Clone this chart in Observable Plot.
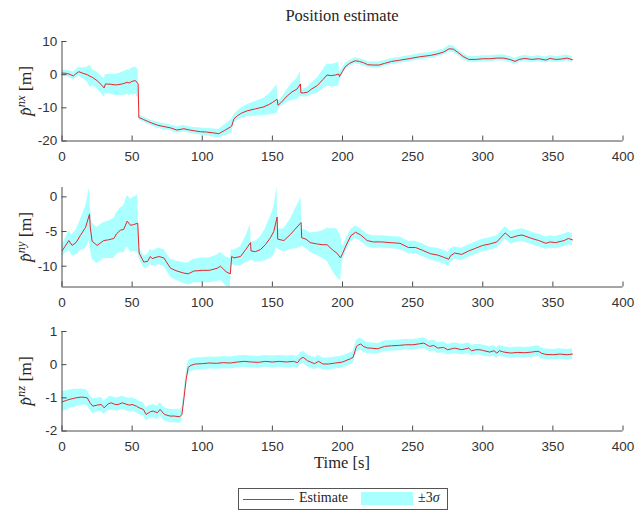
<!DOCTYPE html>
<html>
<head>
<meta charset="utf-8">
<script src="https://cdn.jsdelivr.net/npm/d3@7"></script>
<script src="https://cdn.jsdelivr.net/npm/@observablehq/plot@0.6"></script>
<style>
  html, body { margin: 0; padding: 0; background: #fff; }
  #root { position: relative; width: 637px; height: 511px; background: #fff; overflow: hidden; }
  .abs { position: absolute; }
  .serif { font-family: "Liberation Serif", "DejaVu Serif", serif; color: #262626; }
  .ylab { position: absolute; white-space: nowrap; font-size: 17.5px; line-height: 1; transform: translate(-50%, -50%) rotate(-90deg); }
  .ylab sup { font-size: 12.5px; font-style: italic; vertical-align: 0.5em; line-height: 0; }
</style>
</head>
<body>
<div id="root"></div>
<script>
// ---------- data ----------
const xTicks = [0, 50, 100, 150, 200, 250, 300, 350, 400];

// Panel 1: north position estimate and 3-sigma half width
const tX = [0,3,5,8,10,12,15,18,20,22,25,28,30,31,35,38,40,43,46.5,48,50,52.4,54.3,54.8,58,60.7,64,67.9,72,77,82,86.9,90,94,98.8,103,107,111.8,116,120,121,122.5,125,128,132,138,144,148,150,153.4,154,156,160.6,164,167.7,170,170.3,172,175,178,182,186,189,192,195,197.4,197.8,200,202,205,209,212,215,218,222,226,230,235,240,248.5,255,262.7,268,272,276,279,282,286,290,295,300,305,310,315,320,323,326,330,335,340,345,348,352,356,360,364];
const estX = [0.5,0.4,0.2,-0.4,0.3,0.9,0.4,0.0,-0.5,-0.9,-1.8,-3.0,-4.0,-2.8,-2.9,-3.1,-3.0,-2.8,-2.3,-2.5,-2.0,-1.8,-2.8,-12.9,-13.5,-14.0,-14.6,-15.2,-15.6,-16.0,-16.7,-16.3,-16.6,-16.9,-17.2,-17.3,-17.5,-17.8,-16.8,-15.8,-15.5,-13.4,-12.4,-11.6,-10.9,-10.3,-9.7,-8.9,-8.4,-7.4,-9.2,-8.5,-6.4,-5.2,-4.3,-2.8,-5.5,-5.5,-5.3,-4.3,-3.3,-1.5,-0.1,-0.3,-0.1,0.2,-0.6,1.0,2.4,3.4,4.2,4.0,3.6,3.0,2.9,2.9,3.4,4.0,4.3,4.9,5.4,5.8,6.3,6.8,7.8,7.7,6.8,5.5,4.6,4.6,4.8,4.8,5.0,5.0,4.5,4.0,4.6,4.9,4.6,4.8,4.4,4.9,4.6,4.7,5.0,4.5];
const sigX = [0.8,0.9,1.0,1.1,1.2,1.3,1.6,2.2,3.4,2.4,2.5,2.6,2.7,2.8,3.0,3.2,3.3,3.5,3.7,3.8,4.0,4.1,4.2,0.8,0.8,0.8,0.8,0.9,0.9,0.9,1.0,1.0,1.0,1.0,1.1,1.1,1.2,1.3,1.6,2.0,2.1,1.2,1.4,1.6,1.8,2.2,2.6,3.2,3.6,4.4,1.0,1.2,1.9,2.6,3.2,3.8,1.1,1.2,1.4,1.8,2.3,2.8,3.3,3.4,3.5,3.6,1.4,1.0,0.9,0.9,0.9,0.9,0.9,0.9,0.9,0.9,0.9,0.9,0.9,0.9,0.9,0.9,0.9,0.9,1.0,1.0,0.9,0.9,0.9,0.9,0.9,0.9,0.9,0.9,0.9,0.9,0.9,0.9,0.9,0.9,0.9,0.9,0.9,0.9,0.9,0.9];

// Panel 2: east position estimate and 3-sigma half width
const tY = [0,2,4.9,7.2,10,13,16.8,19.6,20.2,21.5,25,29.8,33,37,39,41.7,44,46.5,48.8,51,54,55,58.3,61,63,64.3,69,72.6,77.4,82,86.9,90,94,100,105,110.6,113,117,120,121,122.6,127.3,131,134.4,134.8,138,141.5,145,148.6,151,153.4,153.8,158.2,163,166,170.5,170.9,174,177,182,186,189,191,193.8,196,198.6,200,203,206,209.3,213,217.6,222,228,234,241,247,252,257,262.7,268,272,275.8,277,280,285,290,295,300,305,310,316,320,325,328,335,340,345,348,352,358,361,364];
const estY = [-7.8,-7.2,-6.3,-7.0,-6.6,-5.6,-4.4,-2.5,-4.5,-6.4,-7.0,-6.3,-6.2,-6.0,-5.3,-4.8,-4.7,-3.5,-4.1,-4.0,-3.8,-8.1,-9.4,-9.3,-8.6,-8.9,-8.6,-8.8,-10.3,-10.7,-11.0,-11.1,-10.7,-10.6,-10.6,-10.3,-10.0,-10.8,-11.1,-8.6,-8.8,-8.6,-7.6,-6.6,-7.8,-7.9,-7.6,-6.9,-5.9,-5.0,-2.9,-6.1,-6.3,-5.4,-4.7,-3.7,-5.9,-6.1,-6.6,-6.8,-6.9,-6.9,-7.3,-7.8,-8.1,-8.8,-8.2,-6.8,-5.6,-5.1,-5.5,-6.3,-6.5,-6.5,-6.6,-6.7,-7.3,-7.3,-7.7,-8.2,-8.4,-8.7,-9.0,-8.5,-8.1,-8.3,-7.8,-7.4,-7.0,-6.8,-6.5,-5.2,-5.9,-5.6,-5.5,-6.0,-6.3,-6.7,-6.5,-6.6,-6.3,-6.0,-6.2];
const sigY = [0.8,1.0,1.4,1.5,1.8,2.2,3.0,3.8,3.0,2.6,2.6,2.6,2.7,2.9,3.0,3.2,3.4,3.7,3.8,3.9,4.1,0.8,0.9,1.0,1.0,1.1,1.2,1.2,1.3,1.4,1.5,1.6,1.7,1.8,1.8,1.9,2.0,2.1,2.2,1.0,1.1,1.4,1.9,2.6,1.3,1.5,1.8,2.3,3.0,3.5,4.3,1.4,1.7,2.2,2.8,3.6,1.2,1.3,1.4,1.7,2.0,2.4,2.7,3.2,3.5,3.3,1.0,0.9,0.9,0.9,0.9,0.9,0.9,0.9,0.9,0.9,0.9,0.9,0.9,0.9,1.0,1.0,1.0,1.0,0.9,0.9,0.9,0.9,0.9,0.9,0.9,0.9,0.9,0.9,0.9,0.9,0.9,0.9,0.9,0.9,0.9,0.9,0.9];

// Panel 3: down position estimate and 3-sigma half width
const tZ = [0,3,5,8,10,13,15,18,20,22,25,28,30,33,35,38,40,43,45,48,50,53,55,58,60,63,65,68,70,73,77,80,84,85.5,87,88.5,90,92,95,100,105,110,115,120,125,130,135,140,145,150,155,160,165,168,170,172,175,180,183,186,190,195,200,205.7,207.5,210,211.6,213,215,218,220,225,230,235,240,245,250,255,258,262,265,268,272,275,280,285,290,292,295,298,300,305,308,310,312,315,320,325,330,335,338,340,342,345,350,355,360,364];
const estZ = [-1.12,-1.08,-1.05,-1.02,-1.0,-0.98,-0.98,-1.0,-1.15,-1.25,-1.22,-1.2,-1.3,-1.18,-1.15,-1.2,-1.2,-1.15,-1.18,-1.22,-1.2,-1.25,-1.3,-1.35,-1.5,-1.42,-1.4,-1.45,-1.35,-1.5,-1.55,-1.55,-1.57,-1.5,-1.0,-0.45,-0.08,-0.02,0.02,0.03,0.05,0.04,0.06,0.05,0.08,0.1,0.08,0.07,0.1,0.08,0.1,0.08,0.1,0.06,0.18,0.22,0.12,0.03,0.1,0.02,0.02,0.05,0.08,0.18,0.22,0.55,0.6,0.62,0.55,0.5,0.5,0.48,0.55,0.57,0.58,0.6,0.6,0.63,0.65,0.55,0.58,0.5,0.52,0.45,0.5,0.45,0.5,0.42,0.45,0.45,0.43,0.38,0.42,0.35,0.42,0.38,0.35,0.37,0.36,0.38,0.4,0.4,0.34,0.31,0.3,0.32,0.3,0.32];
const sigZ = [0.3,0.29,0.28,0.27,0.26,0.25,0.24,0.23,0.22,0.22,0.21,0.21,0.2,0.2,0.2,0.2,0.2,0.2,0.2,0.2,0.2,0.2,0.2,0.2,0.2,0.2,0.2,0.2,0.2,0.2,0.2,0.2,0.2,0.2,0.2,0.2,0.2,0.19,0.18,0.18,0.18,0.18,0.18,0.18,0.18,0.18,0.18,0.18,0.18,0.18,0.18,0.18,0.18,0.18,0.18,0.18,0.18,0.18,0.18,0.18,0.18,0.18,0.18,0.18,0.18,0.18,0.18,0.18,0.18,0.16,0.16,0.16,0.16,0.16,0.16,0.16,0.16,0.16,0.16,0.16,0.16,0.16,0.16,0.16,0.16,0.16,0.16,0.16,0.16,0.16,0.16,0.16,0.16,0.16,0.16,0.16,0.16,0.16,0.16,0.16,0.16,0.16,0.16,0.16,0.16,0.16,0.16,0.16];

const panels = [
  {t: tX, est: estX, sig: sigX, domain: [-20, 10], ticks: [-20, -10, 0, 10], top: 31, sup: "nx"},
  {t: tY, est: estY, sig: sigY, domain: [-13, 1.35], ticks: [-10, -5, 0], top: 177, sup: "ny"},
  {t: tZ, est: estZ, sig: sigZ, domain: [-2, 1], ticks: [-2, -1, 0, 1], top: 321, sup: "nz"}
];

// ---------- drawing ----------
const root = document.getElementById("root");
const AX = "#4a4a4a";
const BAND = "#aaffff";
const LINE = "#e8262b";
const mT = 10, mB = 22, inner = 99.5;

function el(html, style) {
  const d = document.createElement("div");
  d.innerHTML = html;
  d.className = "abs serif";
  Object.assign(d.style, style);
  root.appendChild(d);
  return d;
}

for (const p of panels) {
  const data = p.t.map((t, i) => ({t, est: p.est[i], lo: p.est[i] - p.sig[i], hi: p.est[i] + p.sig[i]}));
  const chart = Plot.plot({
    width: 637,
    height: mT + inner + mB,
    marginLeft: 61.5,
    marginRight: 14.5,
    marginTop: mT,
    marginBottom: mB,
    style: {fontFamily: "'Liberation Sans', Arial, sans-serif", fontSize: "13.5px", color: "#333", background: "transparent", overflow: "visible"},
    x: {domain: [0, 400]},
    y: {domain: p.domain},
    marks: [
      Plot.areaY(data, {x: "t", y1: "lo", y2: "hi", fill: BAND, clip: true, curve: "linear"}),
      Plot.lineY(data, {x: "t", y: "est", stroke: LINE, strokeWidth: 1, clip: true}),
      Plot.ruleX([0], {stroke: AX, strokeWidth: 1}),
      Plot.ruleY([p.domain[0]], {stroke: AX, strokeWidth: 1}),
      Plot.axisX({ticks: xTicks, tickSize: -5, tickPadding: 15.4, stroke: AX, tickFormat: d => String(d), label: null}),
      Plot.axisY({ticks: p.ticks, tickSize: -5, tickPadding: 9.8, stroke: AX, tickFormat: d => String(d), label: null})
    ]
  });
  const holder = document.createElement("div");
  holder.className = "abs";
  holder.style.left = "0px";
  holder.style.top = p.top + "px";
  holder.appendChild(chart);
  root.appendChild(holder);

  const yc = p.top + mT + inner / 2;
  const lab = document.createElement("div");
  lab.className = "ylab serif";
  lab.style.left = "26px";
  lab.style.top = yc + "px";
  lab.innerHTML = `<i>p&#770;</i><sup>${p.sup}</sup> [m]`;
  root.appendChild(lab);
}

// title, x label
el("Position estimate", {left: "0px", width: "684px", top: "8px", textAlign: "center", fontSize: "16.5px", lineHeight: "1"});
el("Time [s]", {left: "0px", width: "684px", top: "455px", textAlign: "center", fontSize: "16.5px", lineHeight: "1"});

// legend
el("", {left: "238px", top: "488px", width: "208px", height: "20px", border: "1px solid #555", background: "#fff"});
el("", {left: "243px", top: "499px", width: "51px", height: "0px", borderTop: "1px solid " + LINE});
el("Estimate", {left: "299px", top: "491px", fontSize: "14px", lineHeight: "1"});
el("", {left: "361px", top: "492px", width: "52px", height: "13px", background: BAND});
el("&plusmn;3<i>&sigma;</i>", {left: "418px", top: "491px", fontSize: "14px", lineHeight: "1"});
</script>
</body>
</html>
